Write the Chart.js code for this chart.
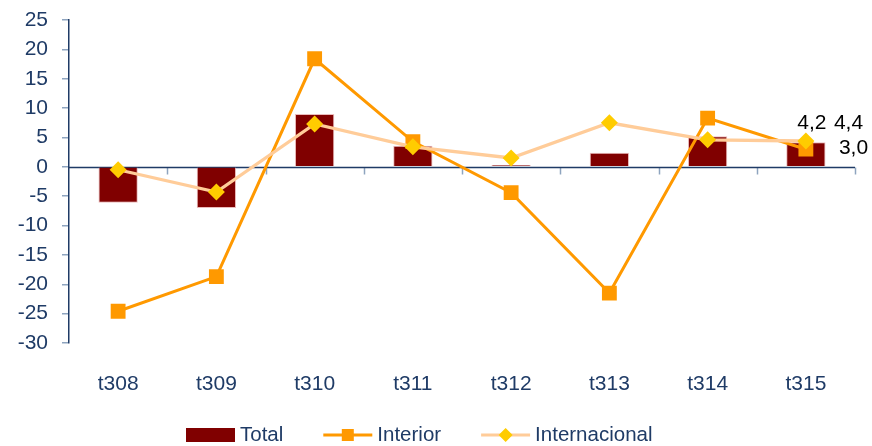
<!DOCTYPE html>
<html lang="es">
<head>
  <meta charset="UTF-8">
  <title>Total / Interior / Internacional</title>
  <script src="https://cdn.jsdelivr.net/npm/chart.js"></script>
  <style>
    html, body { margin: 0; padding: 0; background: #fff; }
    #wrap { width: 872px; height: 446px; }
  </style>
</head>
<body>
<div id="wrap"><canvas id="chart" width="872" height="446"></canvas></div>

<script>
const labels = ['t308', 't309', 't310', 't311', 't312', 't313', 't314', 't315'];
const total = [-6.1, -7.0, 9.0, 3.6, 0.3, 2.4, 5.2, 4.2];
const interior = [-24.6, -18.7, 18.4, 4.3, -4.4, -21.5, 8.3, 3.0];
const internacional = [-0.5, -4.3, 7.3, 3.4, 1.5, 7.5, 4.6, 4.4];

const navy = '#1F3B66';
const fontFamily = '"Liberation Sans", Arial, sans-serif';

// zero line + small ticks on it, end labels, custom legend
const extras = {
  id: 'extras',
  beforeDatasetsDraw(chart) {
    const { ctx, chartArea: a, scales: { x, y } } = chart;
    const y0 = Math.round(y.getPixelForValue(0)) + 0.5;
    const step = (a.right - a.left) / labels.length;
    ctx.save();
    ctx.strokeStyle = '#8EA4BF';
    ctx.lineWidth = 1.5;
    for (let i = 1; i <= labels.length; i++) {
      const px = Math.round(a.left + step * i) + 0.5;
      ctx.beginPath();
      ctx.moveTo(px, y0);
      ctx.lineTo(px, y0 + 7);
      ctx.stroke();
    }
    ctx.strokeStyle = navy;
    ctx.lineWidth = 1.5;
    ctx.beginPath();
    ctx.moveTo(a.left, y0);
    ctx.lineTo(a.right, y0);
    ctx.stroke();
    ctx.restore();
  },
  afterDraw(chart) {
    const { ctx } = chart;
    const last = labels.length - 1;
    ctx.save();
    ctx.font = '21px ' + fontFamily;
    ctx.fillStyle = '#000';
    ctx.textBaseline = 'middle';
    const bar = chart.getDatasetMeta(0).data[last];
    const pInt = chart.getDatasetMeta(1).data[last];
    const pExt = chart.getDatasetMeta(2).data[last];
    ctx.textAlign = 'center';
    ctx.fillText(total[last].toFixed(1).replace('.', ','), bar.x + 6, bar.y - 19);
    ctx.textAlign = 'left';
    ctx.fillText(internacional[last].toFixed(1).replace('.', ','), pExt.x + 28, pExt.y - 18);
    ctx.fillText(interior[last].toFixed(1).replace('.', ','), pInt.x + 33, pInt.y - 1);

    // legend
    ctx.font = '20.5px ' + fontFamily;
    const items = [
      { text: 'Total', kind: 'bar' },
      { text: 'Interior', kind: 'rect' },
      { text: 'Internacional', kind: 'diamond' }
    ];
    const symW = 49, gapSym = 5, gapItem = 40;
    let totalW = 0;
    items.forEach(it => { it.w = ctx.measureText(it.text).width; totalW += symW + gapSym + it.w; });
    totalW += gapItem * (items.length - 1);
    let cx = Math.round(chart.width / 2 - 17 - totalW / 2);
    const ly = 435;
    items.forEach(it => {
      if (it.kind === 'bar') {
        ctx.fillStyle = '#800000';
        ctx.fillRect(cx, ly - 7, symW, 14);
      } else if (it.kind === 'rect') {
        ctx.strokeStyle = '#FF9900';
        ctx.lineWidth = 3;
        ctx.beginPath(); ctx.moveTo(cx, ly); ctx.lineTo(cx + symW, ly); ctx.stroke();
        ctx.fillStyle = '#FF9900';
        ctx.fillRect(cx + symW / 2 - 6, ly - 6, 12, 12);
      } else {
        ctx.strokeStyle = '#FFCC99';
        ctx.lineWidth = 3;
        ctx.beginPath(); ctx.moveTo(cx, ly); ctx.lineTo(cx + symW, ly); ctx.stroke();
        ctx.fillStyle = '#FFCC00';
        const mx = cx + symW / 2;
        ctx.beginPath();
        ctx.moveTo(mx, ly - 7); ctx.lineTo(mx + 7, ly); ctx.lineTo(mx, ly + 7); ctx.lineTo(mx - 7, ly);
        ctx.closePath(); ctx.fill();
      }
      ctx.fillStyle = navy;
      ctx.textAlign = 'left';
      ctx.fillText(it.text, cx + symW + gapSym, ly);
      cx += symW + gapSym + it.w + gapItem;
    });
    ctx.restore();
  }
};

new Chart(document.getElementById('chart').getContext('2d'), {
  data: {
    labels: labels,
    datasets: [
      {
        type: 'bar',
        label: 'Total',
        data: total,
        backgroundColor: '#800000',
        borderColor: 'rgba(230,170,170,0.8)',
        borderWidth: 1,
        barPercentage: 0.8,
        categoryPercentage: 0.5,
        order: 3
      },
      {
        type: 'line',
        label: 'Interior',
        data: interior,
        borderColor: '#FF9900',
        backgroundColor: '#FF9900',
        borderWidth: 3,
        pointStyle: 'rect',
        pointRadius: 10.5,
        pointBorderWidth: 0,
        tension: 0,
        order: 2
      },
      {
        type: 'line',
        label: 'Internacional',
        data: internacional,
        borderColor: '#FFCC99',
        backgroundColor: '#FFCC00',
        borderWidth: 3.3,
        pointStyle: 'rectRot',
        pointRadius: 8.5,
        pointBorderWidth: 0,
        tension: 0,
        order: 1
      }
    ]
  },
  options: {
    responsive: false,
    animation: false,
    layout: { padding: { top: 20, right: 17, left: 0, bottom: 0 } },
    plugins: {
      legend: { display: false },
      tooltip: { enabled: false }
    },
    scales: {
      x: {
        grid: { display: false },
        border: { display: false },
        ticks: { color: navy, font: { family: fontFamily, size: 21 }, padding: 21 },
        afterFit(scale) { scale.height = 103; }
      },
      y: {
        min: -30,
        max: 25,
        ticks: { stepSize: 5, color: navy, font: { family: fontFamily, size: 21 }, padding: 14 },
        grid: { drawOnChartArea: false, drawTicks: true, tickLength: 7, color: '#8EA4BF', lineWidth: 1.5 },
        border: { display: true, color: navy, width: 1.5 },
        afterFit(scale) { scale.width = 69; scale.paddingTop = 0; scale.paddingBottom = 0; }
      }
    }
  },
  plugins: [extras]
});
</script>
</body>
</html>
